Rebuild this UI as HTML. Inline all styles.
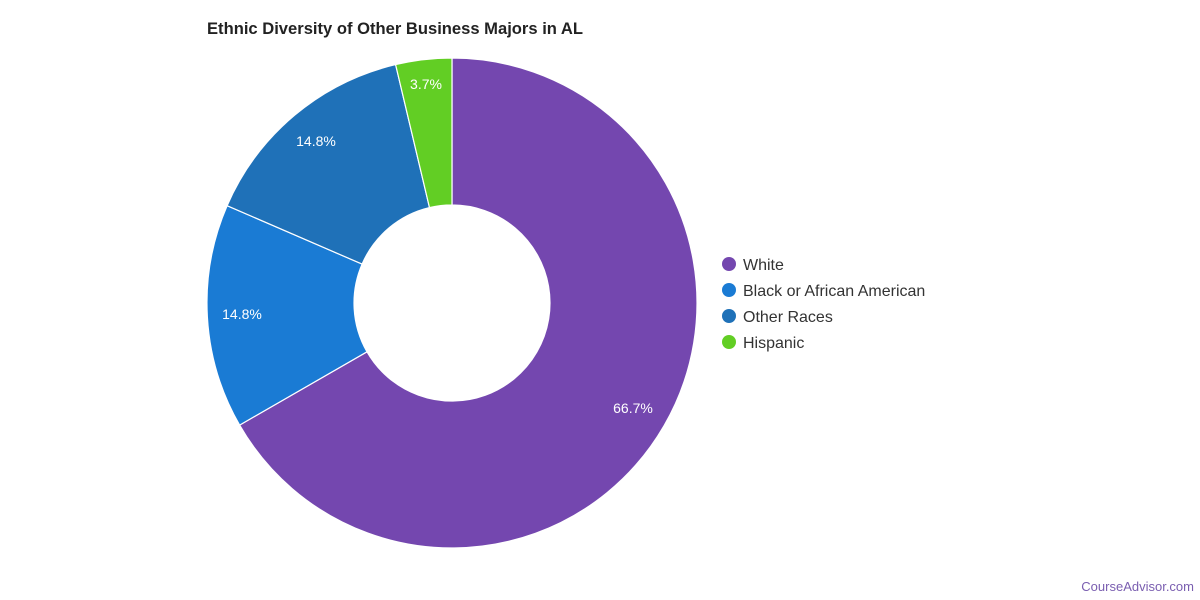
<!DOCTYPE html>
<html><head><meta charset="utf-8"><style>
html,body{margin:0;padding:0;background:#fff;}
svg{display:block;font-family:"Liberation Sans",sans-serif;}
</style></head><body>
<svg width="1200" height="600" viewBox="0 0 1200 600">
<text x="207" y="34" font-size="17" font-weight="bold" fill="#222" textLength="376" lengthAdjust="spacingAndGlyphs">Ethnic Diversity of Other Business Majors in AL</text>
<g stroke="#fff" stroke-width="1.2">
<path d="M452,58 A245,245 0 1 1 239.6,425.1 L367,351.8 A98,98 0 1 0 452,205 Z" fill="#7447AF"/>
<path d="M239.6,425.1 A245,245 0 0 1 227.1,205.7 L362.1,264.1 A98,98 0 0 0 367,351.8 Z" fill="#1A7BD4"/>
<path d="M227.1,205.7 A245,245 0 0 1 395.6,64.6 L429.5,207.6 A98,98 0 0 0 362.1,264.1 Z" fill="#1F71B8"/>
<path d="M395.6,64.6 A245,245 0 0 1 452,58 L452,205 A98,98 0 0 0 429.5,207.6 Z" fill="#62CE24"/>
</g>
<g font-size="14" fill="#fff" text-anchor="middle">
<text x="633" y="413">66.7%</text>
<text x="242" y="319">14.8%</text>
<text x="316" y="146">14.8%</text>
<text x="426" y="89">3.7%</text>
</g>
<g font-size="16" fill="#333">
<circle cx="729" cy="264" r="7" fill="#7447AF"/><text x="743" y="270">White</text>
<circle cx="729" cy="290" r="7" fill="#1A7BD4"/><text x="743" y="296">Black or African American</text>
<circle cx="729" cy="316" r="7" fill="#1F71B8"/><text x="743" y="322">Other Races</text>
<circle cx="729" cy="342" r="7" fill="#62CE24"/><text x="743" y="348">Hispanic</text>
</g>
<text x="1194" y="591" font-size="13" fill="#7a5eb0" text-anchor="end">CourseAdvisor.com</text>
</svg>
</body></html>
